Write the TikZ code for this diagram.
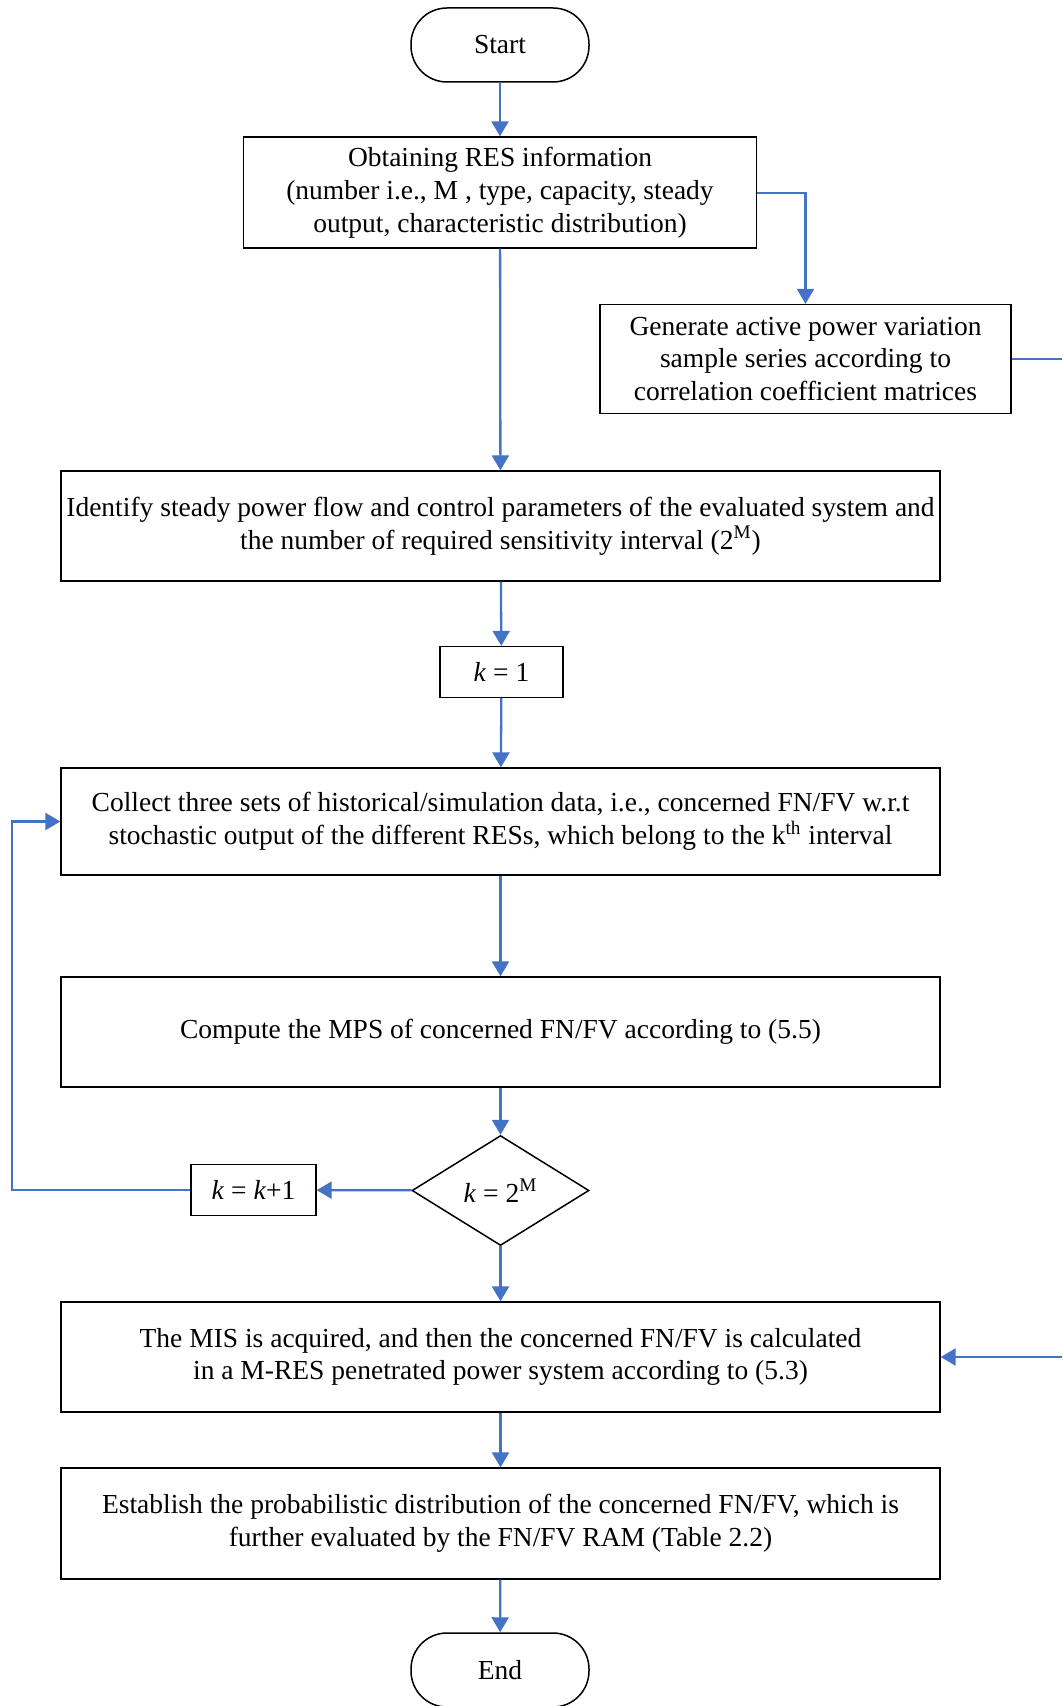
\documentclass[tikz,border=0pt]{standalone}
\usepackage{fontspec}
\setmainfont{Liberation Serif}
\usetikzlibrary{shapes.geometric,arrows.meta}
\definecolor{flowblue}{HTML}{4472C4}
\begin{document}
\begin{tikzpicture}[x=0.5pt,y=-0.5pt,
  every node/.style={font=\fontsize{13.75}{16.4}\selectfont, align=center, inner sep=0pt},
  box/.style={draw=black, line width=0.65pt, rectangle},
  term/.style={draw=black, line width=0.75pt, rectangle, rounded corners=18pt,
    minimum width=89pt, minimum height=37pt},
  decision/.style={draw=black, line width=0.75pt, diamond, minimum width=88.5pt, minimum height=55pt},
  flow/.style={draw=flowblue, line width=1.15pt, -{Triangle[length=7.5pt,width=8.5pt]}},
  link/.style={draw=flowblue, line width=1.15pt}]
\useasboundingbox (0,0) rectangle (1062,1706);

% terminals
\node[term] (start) at (500,45) {Start};
\node[term] (end) at (500,1670) {End};

% process boxes
\node[box, minimum width=256.5pt, minimum height=55.5pt] (res) at (500,192.5)
  {Obtaining RES information\\(number i.e., M , type, capacity, steady\\output, characteristic distribution)};
\node[box, minimum width=205.5pt, minimum height=54.5pt] (gen) at (805.5,359)
  {Generate active power variation\\sample series according to\\correlation coefficient matrices};
\node[box, minimum width=439.5pt, minimum height=55pt] (ident) at (500.5,526)
  {Identify steady power flow and control parameters of the evaluated system and\\the number of required sensitivity interval (2\textsuperscript{M})};
\node[box, minimum width=61.5pt, minimum height=25.5pt] (kone) at (501.5,672)
  {\textit{k} = 1};
\node[box, minimum width=439.5pt, minimum height=53.5pt] (collect) at (500.5,821.5)
  {Collect three sets of historical/simulation data, i.e., concerned FN/FV w.r.t\\stochastic output of the different RESs, which belong to the k\textsuperscript{th} interval};
\node[box, minimum width=439.5pt, minimum height=55pt] (mps) at (500.5,1032)
  {Compute the MPS of concerned FN/FV according to (5.5)};
\node[decision] (check) at (500.5,1190.5) {\textit{k} = 2\textsuperscript{M}};
\node[box, minimum width=62.5pt, minimum height=25.5pt] (kinc) at (253.5,1190)
  {\textit{k} = \textit{k}+1};
\node[box, minimum width=439.5pt, minimum height=55pt] (mis) at (500.5,1357)
  {The MIS is acquired, and then the concerned FN/FV is calculated\\in a M-RES penetrated power system according to (5.3)};
\node[box, minimum width=439.5pt, minimum height=55.5pt] (estab) at (500.5,1523.5)
  {Establish the probabilistic distribution of the concerned FN/FV, which is\\further evaluated by the FN/FV RAM (Table 2.2)};

% free ends at the right margin
\coordinate (genout) at (1062,359);
\coordinate (misin) at (1062,1357);

% main flow
\draw[flow] (start) -- (res);
\draw[flow] (res) -- (ident);
\draw[flow] (res.east |- 0,193) -| (gen.north);
\draw[link] (gen.east) -- (genout);
\draw[flow] (ident) -- (kone);
\draw[flow] (kone) -- (collect);
\draw[flow] (collect) -- (mps);
\draw[flow] (mps) -- (check);
\draw[flow] (check) -- (kinc);
\draw[flow] (kinc.west) -- (12,1190) |- (collect.west);
\draw[flow] (check) -- (mis);
\draw[flow] (misin) -- (mis.east |- misin);
\draw[flow] (mis) -- (estab);
\draw[flow] (estab) -- (end);
\end{tikzpicture}
\end{document}
